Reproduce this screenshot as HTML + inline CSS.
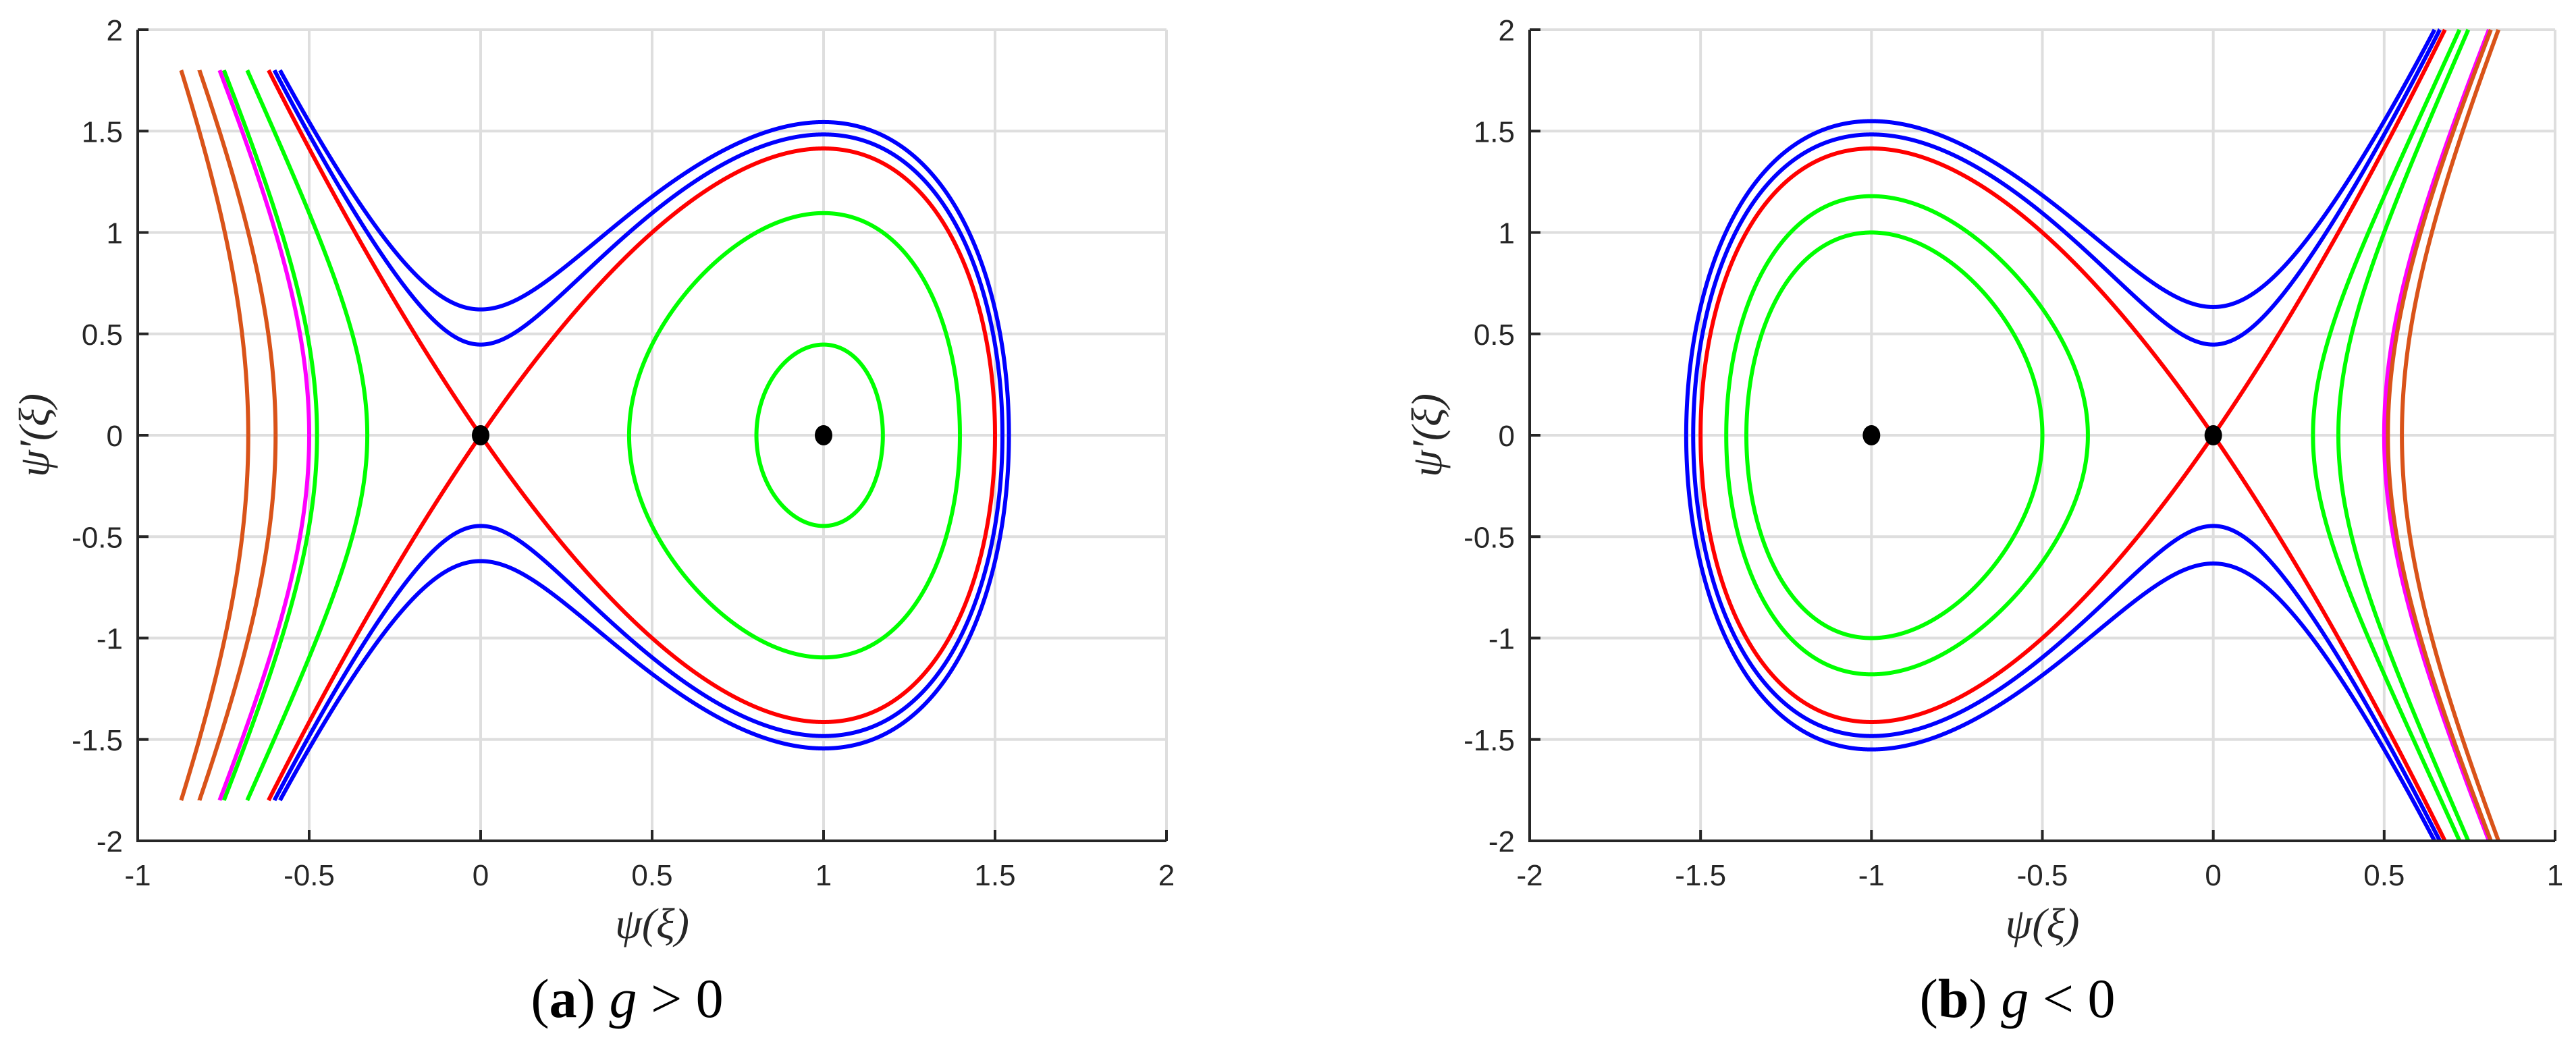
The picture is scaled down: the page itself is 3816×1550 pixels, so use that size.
<!DOCTYPE html>
<html><head><meta charset="utf-8"><style>
html,body{margin:0;padding:0;background:#fff;}
svg{display:block;}
.tk{font-family:"Liberation Sans",sans-serif;font-size:44px;fill:#262626;}
.lab{font-family:"Liberation Serif",serif;font-style:italic;font-size:64px;fill:#262626;}
.cap{font-family:"Liberation Serif",serif;font-size:82px;fill:#000;}
</style></head><body>
<svg id="fig" width="3816" height="1550" viewBox="0 0 3816 1550" xmlns="http://www.w3.org/2000/svg"></svg>
<script>
// Energy levels C of psi'^2 = 6 psi^2 + s*4 psi^3 + C
const levelsA = [0.385, 0.2, 0, -0.8, -1.8, -2, -3, -4];
const levelsB = [0.4, 0.2, 0, -0.61, -1, -2, -2.1, -2.5];
const levelColors = ["#0000ff","#0000ff","#ff0000","#00ff00","#00ff00","#ff00ff","#d95319","#d95319"];
const fixedPointsA = [[0,0],[1,0]];
const fixedPointsB = [[-1,0],[0,0]];
const xTicksA = [-1,-0.5,0,0.5,1,1.5,2];
const xTicksB = [-2,-1.5,-1,-0.5,0,0.5,1];
const yTicks = [-2,-1.5,-1,-0.5,0,0.5,1,1.5,2];

const NS="http://www.w3.org/2000/svg";
const svg=document.getElementById('fig');
function mk(tag,attrs,parent){const e=document.createElementNS(NS,tag);for(const k in attrs)e.setAttribute(k,attrs[k]);(parent||svg).appendChild(e);return e;}

function panel(cfg){
  const g=mk('g',{});
  
  
  const L=cfg.left,R=cfg.right,T=44,B=1246;
  const x0=cfg.xmin,x1=cfg.xmax;
  const sx=v=>L+(v-x0)/(x1-x0)*(R-L);
  const sy=v=>B-(v+2)/4*(B-T);
  cfg.xticks.forEach(t=>{const l=mk('line',{x1:sx(t),x2:sx(t),y1:T,y2:B,stroke:'#dedede','stroke-width':4},g);
    });
  yTicks.forEach(t=>{const l=mk('line',{x1:L,x2:R,y1:sy(t),y2:sy(t),stroke:'#dedede','stroke-width':4},g);
    });
  const f=(p,C)=>6*p*p+cfg.s*4*p*p*p+C;
  const ymax=cfg.ymax, y2=ymax*ymax;
  cfg.levels.forEach((C,i)=>{
    const ok=p=>{const v=f(p,C);return v>=1e-9&&v<=y2;};
    const N=12000;const segs=[];let cur=null;
    const refine=(a,b)=>{const oa=ok(a);for(let k=0;k<40;k++){const m=(a+b)/2;if(ok(m)===oa)a=m;else b=m;}return oa?a:b;};
    let prev=x0, prevOk=ok(x0);
    if(prevOk){cur=[x0];}
    for(let k=1;k<=N;k++){
      const p=x0+(x1-x0)*k/N;const o=ok(p);
      if(o&&!prevOk){cur=[refine(p,prev)];cur.push(p);}
      else if(o&&prevOk){cur.push(p);}
      else if(!o&&prevOk){cur.push(refine(prev,p));segs.push(cur);cur=null;}
      prev=p;prevOk=o;
    }
    if(cur)segs.push(cur);
    segs.forEach(seg=>{
      if(seg.length<8)return;
      [1,-1].forEach(sg=>{
        let d='';
        seg.forEach((p,j)=>{const v=Math.sqrt(Math.max(0,f(p,C)));const yy=Math.min(v,ymax)*sg;
          d+=(j?'L':'M')+sx(p).toFixed(2)+' '+sy(yy).toFixed(2);});
        const pa=mk('path',{d:d,fill:'none',stroke:levelColors[i],'stroke-width':6,'stroke-linejoin':'round'},g);
        
        
      });
    });
  });
  cfg.points.forEach(pt=>{const c=mk('ellipse',{cx:sx(pt[0]),cy:sy(pt[1]),rx:13,ry:15,fill:'#000'},g);
    });
  const ax=mk('path',{d:`M${L} ${T}V${B}H${R}`,fill:'none',stroke:'#262626','stroke-width':4},g);
  
  cfg.xticks.forEach(t=>{const l=mk('line',{x1:sx(t),x2:sx(t),y1:B,y2:B-16,stroke:'#262626','stroke-width':4},g);
    
    const tx=mk('text',{x:sx(t),y:1312,'text-anchor':'middle',class:'tk'},g);tx.textContent=String(t);
    });
  yTicks.forEach(t=>{const l=mk('line',{x1:L,x2:L+16,y1:sy(t),y2:sy(t),stroke:'#262626','stroke-width':4},g);
    
    const tx=mk('text',{x:L-22,y:sy(t)+16,'text-anchor':'end',class:'tk'},g);tx.textContent=String(t);
    });
  const xl=mk('text',{x:(L+R)/2,y:1390,'text-anchor':'middle',class:'lab'},g);xl.textContent='ψ(ξ)';
  
  const yl=mk('text',{x:0,y:0,'text-anchor':'middle',class:'lab',transform:`translate(${cfg.ylx+22},645) rotate(-90)`},g);yl.textContent='ψ′(ξ)';
  
  const cp=mk('text',{x:(L+R)/2-37,y:1507,'text-anchor':'middle',class:'cap'},g);
  cp.innerHTML=`(<tspan font-weight="bold">${cfg.letter}</tspan>) <tspan font-style="italic">g</tspan> ${cfg.rel} 0`;
  
}
panel({name:'panel-a',left:204,right:1728,xmin:-1,xmax:2,xticks:xTicksA,s:-1,ymax:1.8,levels:levelsA,points:fixedPointsA,ylx:50,letter:'a',rel:'&gt;'});
panel({name:'panel-b',left:2266,right:3785,xmin:-2,xmax:1,xticks:xTicksB,s:1,ymax:2,levels:levelsB,points:fixedPointsB,ylx:2113,letter:'b',rel:'&lt;'});
</script>
</body></html>
